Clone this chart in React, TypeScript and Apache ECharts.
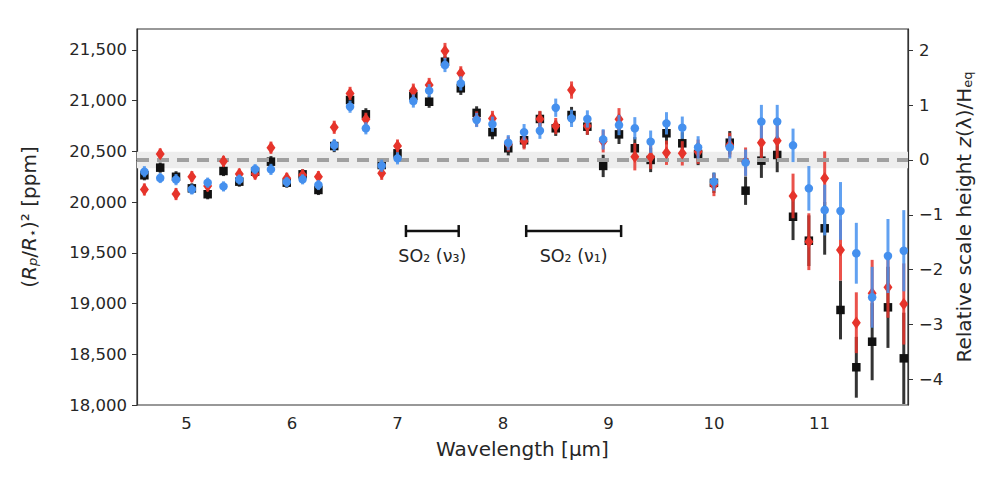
import React, { useEffect, useRef } from "react";
import * as echarts from "echarts";

// ---- data ----
const wavelengths = [
  4.6, 4.75, 4.9, 5.05, 5.2, 5.35, 5.5, 5.65, 5.8, 5.95, 6.1, 6.25,
  6.4, 6.55, 6.7, 6.85, 7.0, 7.15, 7.3, 7.45, 7.6, 7.75, 7.9, 8.05,
  8.2, 8.35, 8.5, 8.65, 8.8, 8.95, 9.1, 9.25, 9.4, 9.55, 9.7, 9.85,
  10.0, 10.15, 10.3, 10.45, 10.6, 10.75, 10.9, 11.05, 11.2, 11.35, 11.5, 11.65, 11.8,
];

const blackValues = [
  20265, 20340, 20250, 20136, 20078, 20307, 20202, 20300, 20399, 20192, 20274, 20120,
  20553, 21007, 20866, 20366, 20481, 21047, 20990, 21385, 21122, 20880, 20690, 20531,
  20610, 20820, 20728, 20859, 20744, 20357, 20668, 20531, 20416, 20679, 20580, 20475,
  20190, 20586, 20113, 20409, 20465, 19856, 19620, 19742, 18937, 18372, 18624, 18963, 18460,
];
const redValues = [
  20125, 20475, 20080, 20251, 20160, 20402, 20277, 20277, 20537, 20235, 20267, 20251,
  20738, 21072, 20817, 20284, 20553, 21099, 21155, 21490, 21270, 20820, 20825, 20573,
  20600, 20820, 20750, 21105, 20750, 20600, 20817, 20448, 20445, 20487, 20481, 20497,
  20169, 20563, 20399, 20586, 20606, 20061, 19610, 20235, 19528, 18811, 19101, 19160, 18996,
];
const blueValues = [
  20300, 20238, 20222, 20125, 20192, 20155, 20223, 20325, 20323, 20199, 20225, 20169,
  20563, 20941, 20728, 20359, 20432, 20997, 21099, 21352, 21171, 20810, 20768, 20586,
  20690, 20704, 20931, 20826, 20820, 20619, 20760, 20728, 20596, 20777, 20734, 20540,
  20202, 20540, 20389, 20794, 20794, 20560, 20136, 19922, 19913, 19496, 19062, 19469, 19521,
];

const blackErrors = [
  50, 50, 55, 50, 50, 50, 50, 50, 55, 50, 50, 50,
  60, 60, 60, 60, 60, 60, 60, 60, 65, 65, 70, 70,
  75, 75, 75, 80, 80, 110, 95, 110, 120, 110, 110, 110,
  100, 115, 140, 170, 170, 230, 250, 260, 290, 300, 380, 400, 450,
];
const redErrors = [
  60, 55, 60, 55, 55, 55, 55, 55, 60, 55, 55, 55,
  65, 65, 65, 65, 65, 70, 70, 80, 70, 75, 75, 75,
  80, 80, 80, 85, 85, 110, 110, 135, 120, 120, 120, 120,
  110, 120, 140, 170, 180, 220, 280, 265, 300, 300, 330, 300, 400,
];
const blueErrors = [
  55, 50, 55, 50, 50, 50, 50, 50, 55, 50, 50, 50,
  60, 60, 60, 60, 60, 65, 65, 70, 70, 70, 75, 75,
  80, 80, 90, 85, 85, 100, 100, 110, 110, 110, 110, 110,
  90, 110, 130, 165, 165, 165, 220, 250, 285, 300, 300, 365, 400,
];

const xTicks = [5, 6, 7, 8, 9, 10, 11];
const yTicks = [18000, 18500, 19000, 19500, 20000, 20500, 21000, 21500];
const scaleTicks = [-4, -3, -2, -1, 0, 1, 2];

const baselinePpm = 20416;
const bandLow = 20333;
const bandHigh = 20497;

const soLabels = ["SO\u2082 (\u03BD\u2083)", "SO\u2082 (\u03BD\u2081)"];
const soStart = [7.08, 8.22];
const soEnd = [7.58, 9.12];
const soLevel = 19715;

// ---- style ----
const FONT = "DejaVu Sans";
const TXT = "#262626";
const BLACK = "#111111";
const RED = "#e6342b";
const BLUE = "#4590ee";
const TICK_FS = 16.5;
const NAME_FS = 20;

const errorRender = (color: string) => (params: any, api: any) => {
  const x = api.value(0);
  const y = api.value(1);
  const e = api.value(2);
  const p1 = api.coord([x, y - e]);
  const p2 = api.coord([x, y + e]);
  return {
    type: "line",
    shape: { x1: p1[0], y1: p1[1], x2: p2[0], y2: p2[1] },
    style: { stroke: color, lineWidth: 3, opacity: 0.85 },
  };
};

export default function App() {
  const ref = useRef<HTMLDivElement>(null);

  useEffect(() => {
    if (!ref.current) return;
    const chart = echarts.init(ref.current, undefined, { renderer: "svg" });

    const pts = (vals: number[]) => wavelengths.map((w, i) => [w, vals[i]]);
    const errs = (vals: number[], e: number[]) => wavelengths.map((w, i) => [w, vals[i], e[i]]);

    const soData = soLabels.map((l, i) => [soStart[i], soEnd[i], soLevel, l]);

    chart.setOption({
      animation: false,
      backgroundColor: "#ffffff",
      textStyle: { fontFamily: FONT, color: TXT },
      grid: {
        left: 137,
        right: 92,
        top: 29,
        bottom: 73,
        show: true,
        borderColor: "#333",
        borderWidth: 1.2,
        backgroundColor: "transparent",
      },
      xAxis: {
        type: "value",
        min: 4.53,
        max: 11.84,
        name: "Wavelength [\u00B5m]",
        nameLocation: "middle",
        nameGap: 34,
        nameTextStyle: { fontFamily: FONT, fontSize: NAME_FS, color: TXT },
        axisLine: { show: true, lineStyle: { color: "#333", width: 1.2 } },
        axisTick: { show: true, length: 5, customValues: xTicks, lineStyle: { color: "#333" } },
        axisLabel: { customValues: xTicks, fontFamily: FONT, fontSize: TICK_FS, color: TXT, margin: 10 },
        splitLine: { show: false },
      },
      yAxis: [
        {
          type: "value",
          min: 18000,
          max: 21707,
          position: "left",
          name: "({i|R}{s|p}/{i|R}{s|\u22C6})\u00B2 [ppm]",
          nameLocation: "middle",
          nameGap: 98,
          nameRotate: 90,
          nameTextStyle: {
            fontFamily: FONT,
            fontSize: NAME_FS,
            color: TXT,
            rich: {
              i: { fontFamily: FONT, fontSize: NAME_FS, fontStyle: "italic", color: TXT },
              s: { fontFamily: FONT, fontSize: 13, fontStyle: "italic", color: TXT, verticalAlign: "bottom" },
            },
          },
          axisLine: { show: true, lineStyle: { color: "#333", width: 1.2 } },
          axisTick: { show: true, length: 5, customValues: yTicks, lineStyle: { color: "#333" } },
          axisLabel: {
            customValues: yTicks,
            fontFamily: FONT,
            fontSize: TICK_FS,
            color: TXT,
            margin: 10,
            formatter: (v: number) => v.toLocaleString("en-US"),
          },
          splitLine: { show: false },
        },
        {
          type: "value",
          min: -4.47,
          max: 2.39,
          position: "right",
          name: "Relative scale height {i|z}(\u03BB)/H{s|eq}",
          nameLocation: "middle",
          nameGap: 46,
          nameRotate: 90,
          nameTextStyle: {
            fontFamily: FONT,
            fontSize: NAME_FS,
            color: TXT,
            rich: {
              i: { fontFamily: FONT, fontSize: NAME_FS, fontStyle: "italic", color: TXT },
              s: { fontFamily: FONT, fontSize: 13, color: TXT, verticalAlign: "bottom" },
            },
          },
          axisLine: { show: true, lineStyle: { color: "#333", width: 1.2 } },
          axisTick: { show: true, length: 5, customValues: scaleTicks, lineStyle: { color: "#333" } },
          axisLabel: {
            customValues: scaleTicks,
            fontFamily: FONT,
            fontSize: TICK_FS,
            color: TXT,
            margin: 11,
            formatter: (v: number) => (v < 0 ? "\u2212" + Math.abs(v) : String(v)),
          },
          splitLine: { show: false },
        },
      ],
      series: [
        {
          type: "line",
          data: [],
          z: 1,
          silent: true,
          markArea: {
            silent: true,
            itemStyle: { color: "#ededed" },
            data: [[{ yAxis: bandLow }, { yAxis: bandHigh }]],
          },
          markLine: {
            silent: true,
            symbol: ["none", "none"],
            label: { show: false },
            lineStyle: { color: "#a0a0a0", width: 4, type: [12, 8] },
            data: [{ yAxis: baselinePpm }],
          },
        },
        {
          type: "custom",
          z: 2,
          clip: true,
          renderItem: errorRender(BLACK),
          data: errs(blackValues, blackErrors),
        },
        {
          type: "scatter",
          z: 3,
          symbol: "rect",
          symbolSize: 8.5,
          itemStyle: { color: BLACK, opacity: 1 },
          data: pts(blackValues),
        },
        {
          type: "custom",
          z: 4,
          clip: true,
          renderItem: errorRender(RED),
          data: errs(redValues, redErrors),
        },
        {
          type: "scatter",
          z: 5,
          symbol: "diamond",
          symbolSize: [9, 12.5],
          itemStyle: { color: RED, opacity: 1 },
          data: pts(redValues),
        },
        {
          type: "custom",
          z: 6,
          clip: true,
          renderItem: errorRender(BLUE),
          data: errs(blueValues, blueErrors),
        },
        {
          type: "scatter",
          z: 7,
          symbol: "circle",
          symbolSize: 8.5,
          itemStyle: { color: BLUE, opacity: 1 },
          data: pts(blueValues),
        },
        {
          type: "custom",
          z: 8,
          silent: true,
          renderItem: (params: any, api: any) => {
            const a = api.coord([api.value(0), api.value(2)]);
            const b = api.coord([api.value(1), api.value(2)]);
            const label = soData[params.dataIndex][3] as string;
            const st = { stroke: "#111", lineWidth: 2.5 };
            return {
              type: "group",
              children: [
                { type: "line", shape: { x1: a[0], y1: a[1], x2: b[0], y2: b[1] }, style: st },
                { type: "line", shape: { x1: a[0], y1: a[1] - 6, x2: a[0], y2: a[1] + 6 }, style: st },
                { type: "line", shape: { x1: b[0], y1: b[1] - 6, x2: b[0], y2: b[1] + 6 }, style: st },
                {
                  type: "text",
                  x: (a[0] + b[0]) / 2,
                  y: a[1] + 25,
                  style: {
                    text: label,
                    fontFamily: FONT,
                    fontSize: 17.5,
                    fill: TXT,
                    align: "center",
                    verticalAlign: "middle",
                  },
                },
              ],
            };
          },
          data: soData,
        },
      ],
    });

    return () => chart.dispose();
  }, []);

  return <div ref={ref} style={{ width: 1000, height: 478, position: "absolute", left: 0, top: 0 }} />;
}
